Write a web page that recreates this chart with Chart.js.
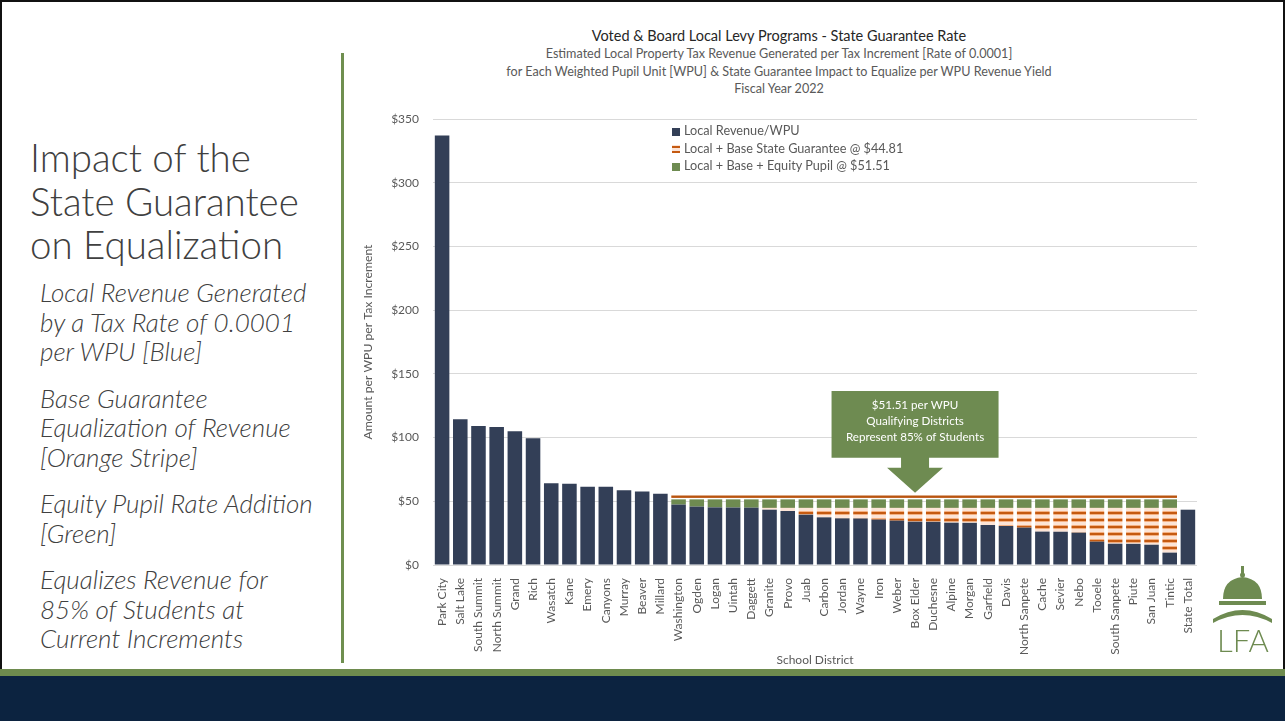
<!DOCTYPE html>
<html>
<head>
<meta charset="utf-8">
<script src="https://cdn.jsdelivr.net/npm/chart.js@4/dist/chart.umd.min.js"></script>
<style>
  html, body { margin: 0; padding: 0; background: #fff; }
  body { width: 1285px; height: 721px; position: relative; overflow: hidden; font-family: Lato, "Open Sans", sans-serif; }
  .frame { position: absolute; left: 0; top: 0; width: 1281px; height: 668px; border: 2px solid #111; border-bottom: none; }
  .divider { position: absolute; left: 341px; top: 53px; width: 3px; height: 610px; background: #6f8f4f; }
  .band-green { position: absolute; left: 0; top: 669px; width: 1285px; height: 7px; background: #6e8b4e; }
  .band-navy { position: absolute; left: 0; top: 676px; width: 1285px; height: 45px; background: #0c2340; }
  .heading { position: absolute; left: 30px; top: 136px; font-size: 38.5px; font-weight: 300; line-height: 43.5px; color: #404040; }
  .notes { position: absolute; left: 40px; top: 278px; font-size: 26px; font-style: italic; font-weight: 300; line-height: 29.5px; color: #404040; }
  .notes p { margin: 0 0 17px 0; }
  .titles { position: absolute; left: 429px; width: 700px; top: 26px; text-align: center; color: #595959; }
  .titles .main { font-size: 14.5px; color: #262626; line-height: 19px; }
  .titles .sub { font-size: 12.6px; line-height: 17.5px; }
  #chart { position: absolute; left: 345px; top: 0; }
  .legend { position: absolute; left: 672px; top: 122px; font-size: 12.7px; color: #595959; }
  .legend div { height: 17.5px; line-height: 17.5px; white-space: nowrap; }
  .legend span { display: inline-block; width: 8px; height: 8px; margin-right: 4px; vertical-align: -0.5px; }
  .logo { position: absolute; left: 1208px; top: 563px; }
</style>
</head>
<body>
<div class="frame"></div>
<div class="divider"></div>
<div class="band-green"></div>
<div class="band-navy"></div>

<div class="heading">Impact of the<br>State Guarantee<br>on Equalization</div>
<div class="notes">
  <p>Local Revenue Generated<br>by a Tax Rate of 0.0001<br>per WPU [Blue]</p>
  <p>Base Guarantee<br>Equalization of Revenue<br>[Orange Stripe]</p>
  <p>Equity Pupil Rate Addition<br>[Green]</p>
  <p>Equalizes Revenue for<br>85% of Students at<br>Current Increments</p>
</div>

<div class="titles">
  <div class="main">Voted &amp; Board Local Levy Programs - State Guarantee Rate</div>
  <div class="sub">Estimated Local Property Tax Revenue Generated per Tax Increment [Rate of 0.0001]</div>
  <div class="sub">for Each Weighted Pupil Unit [WPU] &amp; State Guarantee Impact to Equalize per WPU Revenue Yield</div>
  <div class="sub">Fiscal Year 2022</div>
</div>

<canvas id="chart" width="940" height="670"></canvas>

<div class="legend">
  <div><span style="background:#333f57"></span>Local Revenue/WPU</div>
  <div><span style="background:repeating-linear-gradient(#fce4d6 0 1px,#c55a11 1px 3px,#fce4d6 3px 5px)"></span>Local + Base State Guarantee @ $44.81</div>
  <div><span style="background:#6e8b51"></span>Local + Base + Equity Pupil @ $51.51</div>
</div>

<svg class="logo" width="70" height="92" viewBox="0 0 70 92">
  <g fill="#6e8b51">
    <rect x="33" y="3" width="3" height="8"/>
    <circle cx="34.5" cy="12" r="2.5"/>
    <path d="M15 36 Q15 16 34.5 14 Q54 16 54 36 Z"/>
    <rect x="11" y="38" width="47" height="4"/>
    <path d="M5 56 Q34.5 38 64 56 L64 60 Q34.5 44 5 60 Z"/>
  </g>
  <text x="35" y="89" text-anchor="middle" font-size="31" fill="#6e8b51" font-family="Lato" font-weight="300">LFA</text>
</svg>

<script>
const districts = ['Park City', 'Salt Lake', 'South Summit', 'North Summit', 'Grand', 'Rich', 'Wasatch', 'Kane',
  'Emery', 'Canyons', 'Murray', 'Beaver', 'Millard', 'Washington', 'Ogden', 'Logan', 'Uintah', 'Daggett',
  'Granite', 'Provo', 'Juab', 'Carbon', 'Jordan', 'Wayne', 'Iron', 'Weber', 'Box Elder', 'Duchesne', 'Alpine',
  'Morgan', 'Garfield', 'Davis', 'North Sanpete', 'Cache', 'Sevier', 'Nebo', 'Tooele', 'South Sanpete', 'Piute',
  'San Juan', 'Tintic', 'State Total'];

// local revenue per WPU at 0.0001 rate
const localRevenue = [337.0, 114.4, 109.1, 108.3, 104.9, 99.4, 64.1, 63.8,
  61.5, 61.4, 58.6, 57.6, 56.0, 47.4, 45.8, 45.2, 45.1, 45.0,
  43.4, 42.4, 39.5, 37.4, 36.6, 36.5, 35.6, 34.8, 34.0, 33.9, 33.2,
  33.1, 31.4, 30.6, 29.3, 26.2, 26.1, 25.4, 18.3, 16.7, 16.6,
  15.9, 9.7, 43.4];

const baseGuarantee = 44.81;
const equityRate = 51.51;
const firstQualifying = 'Washington';
const lastQualifying = 'Tintic';
const bracketLevel = 53.6;
const yTicks = [0, 50, 100, 150, 200, 250, 300, 350];
const calloutDistrict = 'Box Elder';
const calloutLines = ['$51.51 per WPU', 'Qualifying Districts', 'Represent 85% of Students'];

const BLUE = '#333f57', GREEN = '#6e8b51', ORANGE = '#c55a11', GRAY = '#595959';

const i0 = districts.indexOf(firstQualifying), i1 = districts.indexOf(lastQualifying);
const qualifies = i => i >= i0 && i <= i1;

function stripes(){
  const c = document.createElement('canvas');
  c.width = 8; c.height = 7;
  const g = c.getContext('2d');
  g.fillStyle = '#fce4d6'; g.fillRect(0, 0, 8, 7);
  g.fillStyle = '#f4b183'; g.fillRect(0, 0, 8, 1); g.fillRect(0, 3, 8, 1);
  g.fillStyle = ORANGE; g.fillRect(0, 1, 8, 2);
  return g.createPattern(c, 'repeat');
}

const calloutPlugin = {
  id: 'callout',
  afterDatasetsDraw(chart){
    const { ctx, scales: { x, y } } = chart;
    const bars = chart.getDatasetMeta(0).data;
    // bracket over qualifying districts
    const a = bars[i0], b = bars[i1];
    ctx.save();
    ctx.fillStyle = '#b9540f';
    ctx.fillRect(a.x - a.width / 2, y.getPixelForValue(bracketLevel) - 1.2, (b.x + b.width / 2) - (a.x - a.width / 2), 2.4);

    // arrow callout
    const cx = x.getPixelForValue(districts.indexOf(calloutDistrict));
    const top = y.getPixelForValue(136.6), bot = y.getPixelForValue(84.2);
    const neck = y.getPixelForValue(76.4), tip = y.getPixelForValue(56.7);
    ctx.fillStyle = GREEN;
    ctx.beginPath();
    ctx.moveTo(cx - 83.5, top); ctx.lineTo(cx + 83.5, top); ctx.lineTo(cx + 83.5, bot);
    ctx.lineTo(cx + 14, bot); ctx.lineTo(cx + 14, neck); ctx.lineTo(cx + 28, neck);
    ctx.lineTo(cx, tip); ctx.lineTo(cx - 28, neck); ctx.lineTo(cx - 14, neck);
    ctx.lineTo(cx - 14, bot); ctx.lineTo(cx - 83.5, bot); ctx.closePath();
    ctx.fill();
    ctx.fillStyle = '#fff';
    ctx.font = '11.6px Lato, sans-serif';
    ctx.textAlign = 'center'; ctx.textBaseline = 'middle';
    calloutLines.forEach((t, k) => ctx.fillText(t, cx, top + 14 + k * 16));
    ctx.restore();
  }
};

const barOpts = { grouped: false, barPercentage: 0.8, categoryPercentage: 1.0, borderWidth: 0 };

new Chart(document.getElementById('chart'), {
  type: 'bar',
  data: {
    labels: districts,
    datasets: [
      { ...barOpts, label: 'Local Revenue/WPU', backgroundColor: BLUE,
        data: localRevenue.map(v => [0, v]) },
      { ...barOpts, label: 'Local + Base State Guarantee @ $44.81', backgroundColor: stripes(),
        data: localRevenue.map((v, i) => qualifies(i) && v < baseGuarantee ? [v, baseGuarantee] : null) },
      { ...barOpts, label: 'Local + Base + Equity Pupil @ $51.51', backgroundColor: GREEN,
        data: localRevenue.map((v, i) => qualifies(i) ? [Math.max(v, baseGuarantee), equityRate] : null) }
    ]
  },
  options: {
    responsive: false,
    animation: false,
    layout: { padding: { left: 12, right: 88, top: 119, bottom: 0 } },
    plugins: { legend: { display: false }, tooltip: { enabled: false } },
    scales: {
      x: {
        grid: { display: false }, border: { display: false },
        ticks: { autoSkip: false, maxRotation: 90, minRotation: 90, padding: 5, color: GRAY, font: { family: 'Lato', size: 12 } },
        title: { display: true, text: 'School District', color: GRAY, font: { family: 'Lato', size: 12 }, padding: { top: 4, bottom: 3 } },
        afterFit(a){ a.height = 105; }
      },
      y: {
        min: 0, max: 350,
        afterBuildTicks(a){ a.ticks = yTicks.map(v => ({ value: v })); },
        ticks: { padding: 14, color: GRAY, font: { family: 'Lato', size: 12 }, callback: v => '$' + v },
        grid: { color: '#d9d9d9', drawTicks: false },
        border: { display: false },
        title: { display: true, text: 'Amount per WPU per Tax Increment', color: GRAY, font: { family: 'Lato', size: 12.2 }, padding: { top: 4, bottom: 4 } },
        afterFit(a){ a.width = 76; }
      }
    }
  },
  plugins: [calloutPlugin]
});
</script>
</body>
</html>
